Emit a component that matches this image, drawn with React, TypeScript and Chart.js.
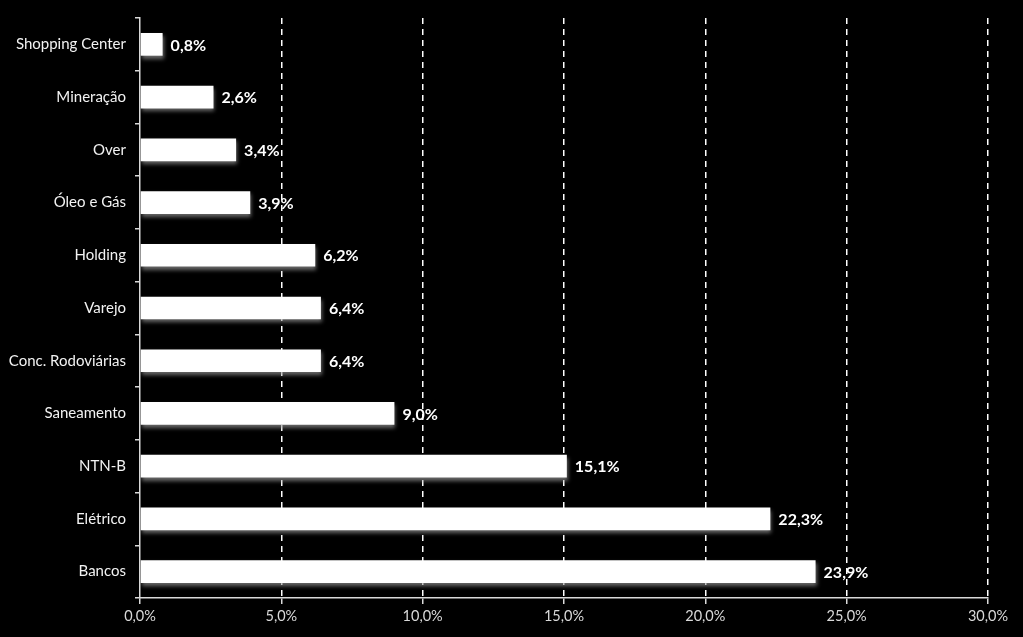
import React, { useEffect, useRef } from "react";
import { Chart, registerables } from "chart.js";

Chart.register(...registerables);

const categories = [
  "Shopping Center",
  "Mineração",
  "Over",
  "Óleo e Gás",
  "Holding",
  "Varejo",
  "Conc. Rodoviárias",
  "Saneamento",
  "NTN-B",
  "Elétrico",
  "Bancos",
];
const values = [0.8, 2.6, 3.4, 3.9, 6.2, 6.4, 6.4, 9.0, 15.1, 22.3, 23.9];

const FONT = "Lato, 'Open Sans', sans-serif";
const fmt = (v: number) => v.toFixed(1).replace(".", ",") + "%";

const valueLabels = {
  id: "valueLabels",
  beforeDatasetDraw(chart: any) {
    const ctx = chart.ctx;
    ctx.save();
    ctx.shadowColor = "rgba(150,150,150,0.7)";
    ctx.shadowOffsetX = 1;
    ctx.shadowOffsetY = 3;
    ctx.shadowBlur = 4;
  },
  afterDatasetDraw(chart: any) {
    chart.ctx.restore();
  },
  afterDatasetsDraw(chart: any) {
    const ctx = chart.ctx;
    const meta = chart.getDatasetMeta(0);
    ctx.save();
    ctx.fillStyle = "#ffffff";
    ctx.font = `bold 16px ${FONT}`;
    ctx.textAlign = "left";
    ctx.textBaseline = "middle";
    meta.data.forEach((bar: any, i: number) => {
      ctx.fillText(fmt(values[i]), bar.x + 8, bar.y + 1);
    });
    ctx.restore();
  },
};

export default function App() {
  const ref = useRef<HTMLCanvasElement>(null);
  useEffect(() => {
    document.body.style.margin = "0";
    document.body.style.background = "#000";
    const chart = new Chart(ref.current!, {
      type: "bar",
      data: {
        labels: categories,
        datasets: [
          {
            data: values,
            backgroundColor: "#ffffff",
            borderWidth: 0,
            barPercentage: 0.86,
            categoryPercentage: 0.5,
          },
        ],
      },
      options: {
        indexAxis: "y",
        animation: false,
        responsive: false,
        maintainAspectRatio: false,
        layout: { padding: { left: 0, right: 35, top: 14, bottom: 0 } },
        plugins: { legend: { display: false }, tooltip: { enabled: false } },
        scales: {
          x: {
            min: 0,
            max: 30,
            ticks: {
              stepSize: 5,
              color: "#d9d9d9",
              font: { family: FONT, size: 14.5 },
              padding: 4,
              callback: (v: any) => fmt(Number(v)),
            },
            grid: {
              color: (c: any) => (c.tick && c.tick.value === 0 ? "rgba(0,0,0,0)" : "#ffffff"),
              lineWidth: 1.5,
              tickColor: "#d9d9d9",
              tickLength: 6,
            },
            border: { display: true, color: "#d9d9d9", width: 1.5, dash: [6, 5] },
            afterFit: (s: any) => {
              s.height = 39;
            },
          },
          y: {
            ticks: {
              color: "#f2f2f2",
              font: { family: FONT, size: 15 },
              padding: 9,
            },
            grid: {
              drawOnChartArea: false,
              drawTicks: true,
              offset: true,
              tickLength: 5,
              color: "#d9d9d9",
              lineWidth: 1.5,
            },
            border: { display: true, color: "#d9d9d9", width: 1.5 },
            afterFit: (s: any) => {
              s.width = 140;
            },
          },
        },
      },
      plugins: [valueLabels],
    });
    return () => chart.destroy();
  }, []);
  return (
    <div style={{ width: 1023, height: 637, background: "#000" }}>
      <canvas ref={ref} width={1023} height={637} style={{ display: "block" }} />
    </div>
  );
}
